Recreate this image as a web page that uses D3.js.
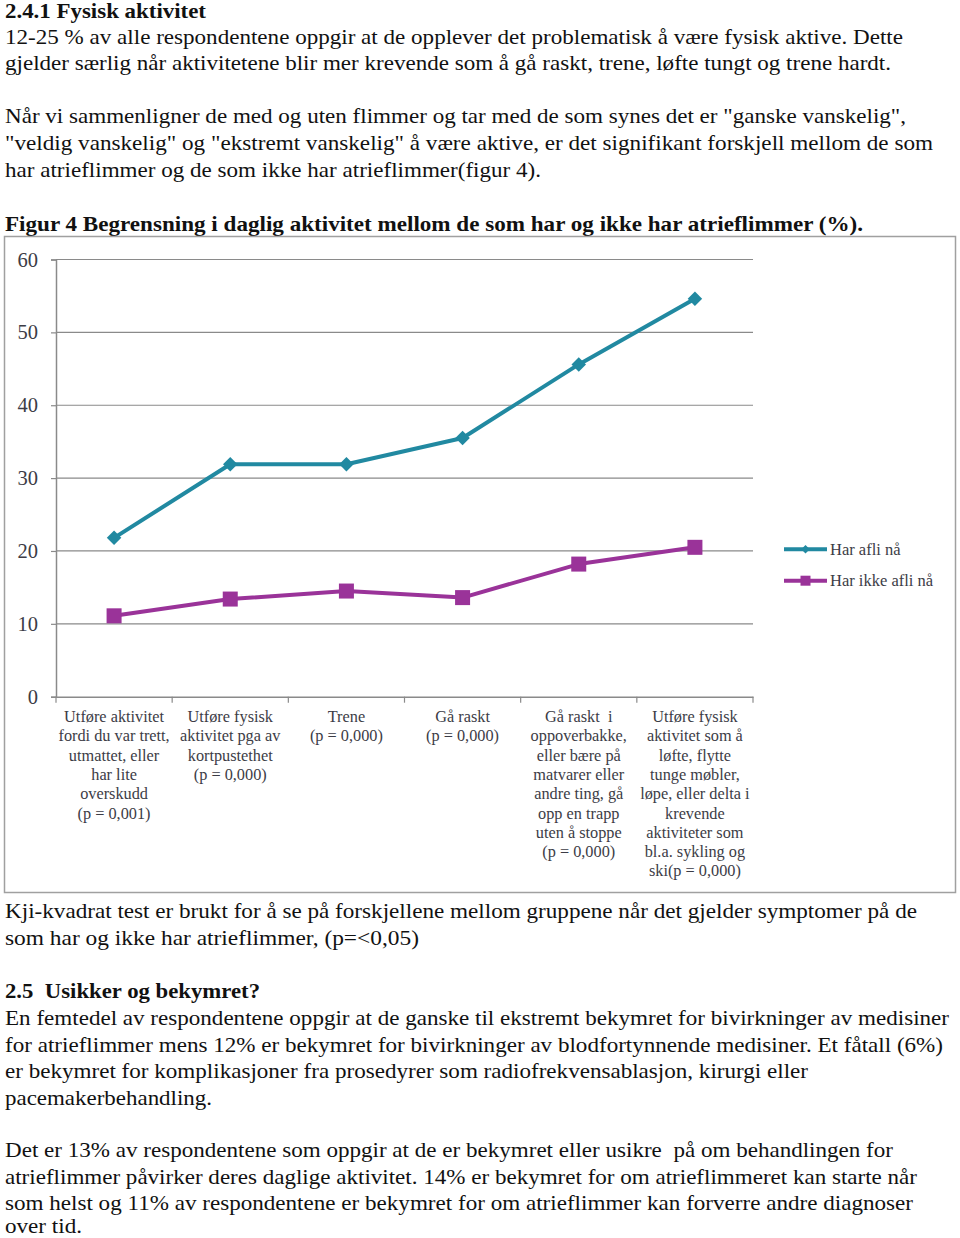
<!DOCTYPE html>
<html>
<head>
<meta charset="utf-8">
<script src="https://cdn.jsdelivr.net/npm/d3@7"></script>
<style>
  html, body { margin: 0; padding: 0; background: #fff; }
  svg { display: block; }
</style>
</head>
<body>
<svg id="page" width="960" height="1238"></svg>
<script>
// ---------- DATA ----------
const categories = [
  "Utføre aktivitet\nfordi du var trett,\nutmattet, eller\nhar lite\noverskudd\n(p = 0,001)",
  "Utføre fysisk\naktivitet pga av\nkortpustethet\n(p = 0,000)",
  "Trene\n(p = 0,000)",
  "Gå raskt\n(p = 0,000)",
  "Gå raskt  i\noppoverbakke,\neller bære på\nmatvarer eller\nandre ting, gå\nopp en trapp\nuten å stoppe\n(p = 0,000)",
  "Utføre fysisk\naktivitet som å\nløfte, flytte\ntunge møbler,\nløpe, eller delta i\nkrevende\naktiviteter som\nbl.a. sykling og\nski(p = 0,000)"
];
const seriesNames = ["Har afli nå", "Har ikke afli nå"];
const harAfli = [21.8, 31.9, 31.9, 35.5, 45.6, 54.6];
const harIkkeAfli = [11.1, 13.4, 14.5, 13.6, 18.2, 20.5];
const yTicks = [0, 10, 20, 30, 40, 50, 60];

const textTop = [
  {t: "2.4.1 Fysisk aktivitet", y: 18, w: 201, b: true},
  {t: "12-25 % av alle respondentene oppgir at de opplever det problematisk å være fysisk aktive. Dette", y: 44, w: 898},
  {t: "gjelder særlig når aktivitetene blir mer krevende som å gå raskt, trene, løfte tungt og trene hardt.", y: 70, w: 886},
  {t: "Når vi sammenligner de med og uten flimmer og tar med de som synes det er \"ganske vanskelig\",", y: 123, w: 901},
  {t: "\"veldig vanskelig\" og \"ekstremt vanskelig\" å være aktive, er det signifikant forskjell mellom de som", y: 150, w: 928},
  {t: "har atrieflimmer og de som ikke har atrieflimmer(figur 4).", y: 177, w: 536},
  {t: "Figur 4 Begrensning i daglig aktivitet mellom de som har og ikke har atrieflimmer (%).", y: 231, w: 858, b: true}
];
const textBottom = [
  {t: "Kji-kvadrat test er brukt for å se på forskjellene mellom gruppene når det gjelder symptomer på de", y: 918, w: 912},
  {t: "som har og ikke har atrieflimmer, (p=<0,05)", y: 945, w: 414},
  {t: "2.5  Usikker og bekymret?", y: 998, w: 255, b: true},
  {t: "En femtedel av respondentene oppgir at de ganske til ekstremt bekymret for bivirkninger av medisiner", y: 1025, w: 944},
  {t: "for atrieflimmer mens 12% er bekymret for bivirkninger av blodfortynnende medisiner. Et fåtall (6%)", y: 1051.5, w: 938},
  {t: "er bekymret for komplikasjoner fra prosedyrer som radiofrekvensablasjon, kirurgi eller", y: 1078, w: 803},
  {t: "pacemakerbehandling.", y: 1104.5, w: 207},
  {t: "Det er 13% av respondentene som oppgir at de er bekymret eller usikre  på om behandlingen for", y: 1157, w: 888},
  {t: "atrieflimmer påvirker deres daglige aktivitet. 14% er bekymret for om atrieflimmeret kan starte når", y: 1183.5, w: 912},
  {t: "som helst og 11% av respondentene er bekymret for om atrieflimmer kan forverre andre diagnoser", y: 1210, w: 908},
  {t: "over tid.", y: 1233, w: 77}
];

// ---------- STYLE ----------
const teal = "#2189a1";
const purple = "#9a3399";
const gridColor = "#8a8a8a";
const labelColor = "#3c3c46";
const serif = "'Liberation Serif', 'Times New Roman', serif";

const svg = d3.select("#page");

// page text
svg.append("g").selectAll("text")
  .data(textTop.concat(textBottom))
  .join("text")
  .attr("x", 5)
  .attr("y", d => d.y)
  .attr("font-family", serif)
  .attr("font-size", 21.5)
  .attr("font-weight", d => d.b ? "bold" : "normal")
  .attr("fill", "#111")
  .attr("textLength", d => d.w)
  .attr("lengthAdjust", "spacingAndGlyphs")
  .attr("xml:space", "preserve")
  .text(d => d.t);

// chart frame
svg.append("rect")
  .attr("x", 4.5).attr("y", 236.5)
  .attr("width", 951).attr("height", 656)
  .attr("fill", "#fff")
  .attr("stroke", "#a0a0a0")
  .attr("stroke-width", 1.5);

const plotLeft = 56, plotRight = 753, plotTop = 259.5, plotBottom = 696.7;

const x = d3.scaleBand().domain(categories).range([plotLeft, plotRight]);
const y = d3.scaleLinear().domain([0, 60]).range([plotBottom, plotTop]);

const chart = svg.append("g");

// gridlines
chart.append("g").selectAll("line")
  .data(yTicks.filter(v => v > 0))
  .join("line")
  .attr("x1", plotLeft).attr("x2", plotRight)
  .attr("y1", d => y(d)).attr("y2", d => y(d))
  .attr("stroke", gridColor).attr("stroke-width", 1.2);

// y axis
const yAxis = chart.append("g")
  .attr("transform", `translate(${plotLeft},0)`)
  .call(d3.axisLeft(y).tickValues(yTicks).tickSize(5).tickPadding(13).tickFormat(d3.format("d")));
yAxis.select(".domain").attr("stroke", gridColor).attr("stroke-width", 1.5);
yAxis.selectAll(".tick line").attr("stroke", gridColor).attr("stroke-width", 1.2);
yAxis.selectAll("text")
  .attr("font-family", serif).attr("font-size", 20.5).attr("fill", labelColor);

// x axis
const xAxis = chart.append("g")
  .attr("transform", `translate(0,${plotBottom})`)
  .call(d3.axisBottom(x).tickSize(0).tickFormat(""));
xAxis.select(".domain").attr("stroke", gridColor).attr("stroke-width", 1.5);
// category boundary ticks
const bounds = categories.map(c => x(c)).concat([plotRight]);
chart.append("g").selectAll("line")
  .data(bounds)
  .join("line")
  .attr("x1", d => d).attr("x2", d => d)
  .attr("y1", plotBottom).attr("y2", plotBottom + 6)
  .attr("stroke", gridColor).attr("stroke-width", 1.2);

// category labels
const catG = chart.append("g").selectAll("text")
  .data(categories)
  .join("text")
  .attr("font-family", serif)
  .attr("font-size", 16.3)
  .attr("fill", labelColor)
  .attr("text-anchor", "middle");
catG.each(function(c) {
  const lines = c.split("\n");
  d3.select(this).selectAll("tspan")
    .data(lines)
    .join("tspan")
    .attr("x", x(c) + x.bandwidth() / 2)
    .attr("y", (l, i) => 722 + i * 19.3)
    .attr("xml:space", "preserve")
    .text(l => l);
});

// lines
const line = d3.line()
  .x((d, i) => x(categories[i]) + x.bandwidth() / 2)
  .y(d => y(d));

chart.append("path").datum(harAfli)
  .attr("d", line).attr("fill", "none")
  .attr("stroke", teal).attr("stroke-width", 4).attr("stroke-linejoin", "round");
chart.append("path").datum(harIkkeAfli)
  .attr("d", line).attr("fill", "none")
  .attr("stroke", purple).attr("stroke-width", 4).attr("stroke-linejoin", "round");

// markers
chart.append("g").selectAll("path")
  .data(harAfli)
  .join("path")
  .attr("d", d3.symbol(d3.symbolSquare, 105)())
  .attr("transform", (d, i) => `translate(${x(categories[i]) + x.bandwidth() / 2},${y(d)}) rotate(45)`)
  .attr("fill", teal);
chart.append("g").selectAll("rect")
  .data(harIkkeAfli)
  .join("rect")
  .attr("x", (d, i) => x(categories[i]) + x.bandwidth() / 2 - 7.5)
  .attr("y", d => y(d) - 7.5)
  .attr("width", 15).attr("height", 15)
  .attr("fill", purple);

// legend
const legendY = [549.3, 580.7];
const legendColors = [teal, purple];
const lg = svg.append("g").selectAll("g")
  .data(seriesNames)
  .join("g")
  .attr("transform", (d, i) => `translate(784,${legendY[i]})`);
lg.append("line")
  .attr("x1", 0).attr("x2", 43).attr("y1", 0).attr("y2", 0)
  .attr("stroke", (d, i) => legendColors[i]).attr("stroke-width", 4);
lg.append("path")
  .attr("d", (d, i) => i === 0 ? d3.symbol(d3.symbolSquare, 36)() : d3.symbol(d3.symbolSquare, 100)())
  .attr("transform", (d, i) => `translate(21.5,0) rotate(${i === 0 ? 45 : 0})`)
  .attr("fill", (d, i) => legendColors[i]);
lg.append("text")
  .attr("x", 46).attr("y", 5.5)
  .attr("font-family", serif).attr("font-size", 16.5)
  .attr("fill", labelColor)
  .text(d => d);
</script>
</body>
</html>
